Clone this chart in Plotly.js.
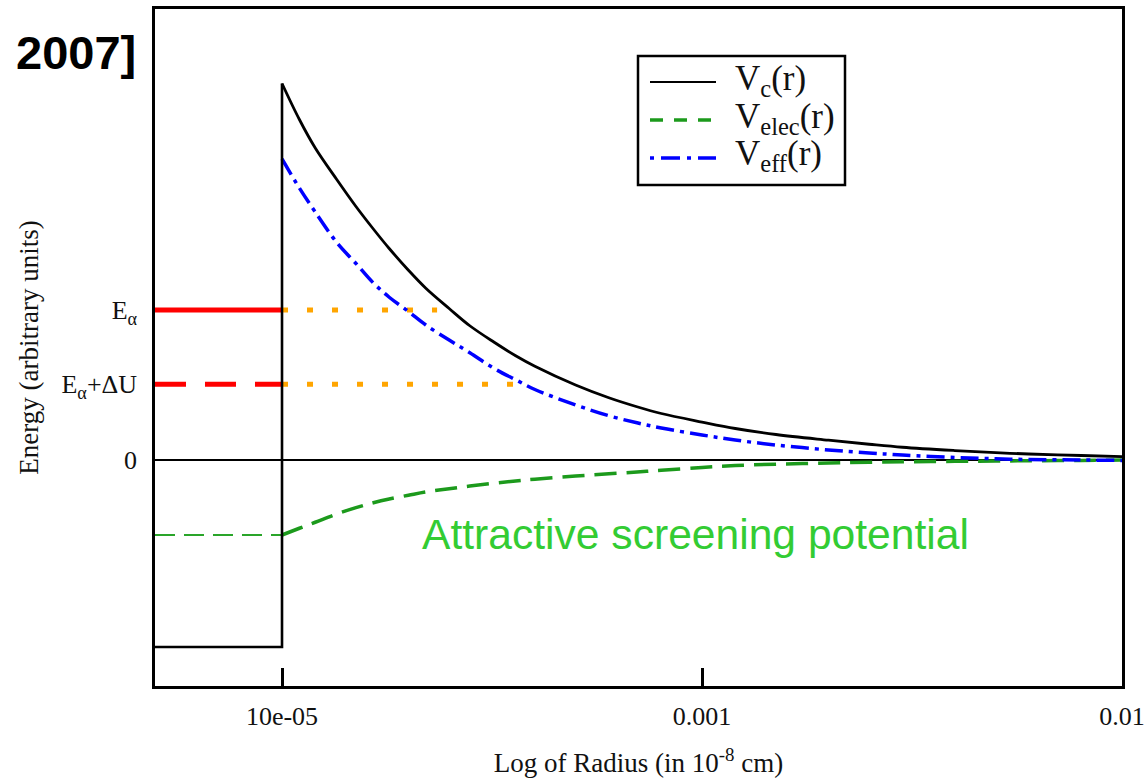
<!DOCTYPE html>
<html>
<head>
<meta charset="utf-8">
<script src="https://cdn.plot.ly/plotly-3.0.1.min.js"></script>
<style>html,body{margin:0;padding:0;background:#fff;}#chart{width:1146px;height:778px;}</style>
</head>
<body>
<div id="chart"></div>
<script>
// ---- data ----
const radius = [1.0e-4, 1.1e-4, 1.2e-4, 1.35e-4, 1.5e-4, 1.65e-4, 1.8e-4, 2.0e-4, 2.2e-4, 2.5e-4, 2.8e-4, 3.2e-4, 3.6e-4, 4.0e-4, 5e-4, 6e-4, 7e-4, 8e-4, 1e-3, 1.2e-3, 1.5e-3, 2e-3, 2.5e-3, 3e-3, 4e-3, 5e-3, 6e-3, 8e-3, 1e-2];
const vCoulomb = [2.51, 2.27, 2.08, 1.87, 1.69, 1.54, 1.41, 1.265, 1.145, 1.01, 0.895, 0.785, 0.695, 0.625, 0.50, 0.415, 0.355, 0.31, 0.253, 0.21, 0.17, 0.132, 0.105, 0.085, 0.063, 0.049, 0.04, 0.03, 0.023];
const vElec = [-0.50, -0.455, -0.415, -0.36, -0.318, -0.285, -0.26, -0.235, -0.213, -0.192, -0.174, -0.155, -0.14, -0.128, -0.107, -0.092, -0.08, -0.068, -0.05, -0.037, -0.028, -0.02, -0.015, -0.012, -0.009, -0.007, -0.005, -0.003, 0];
const vEff = [2.007, 1.813, 1.653, 1.45, 1.31, 1.18, 1.085, 0.99, 0.90, 0.80, 0.715, 0.61, 0.535, 0.47, 0.367, 0.295, 0.248, 0.213, 0.167, 0.133, 0.10, 0.067, 0.047, 0.033, 0.017, 0.008, 0.003, 0, -0.003];

const innerRadius = [4.984e-5, 1.0e-4];      // inside the nucleus
const wallRadius = [4.984e-5, 1.0e-4, 1.0e-4];
const vCoulombWall = [-1.247, -1.247, 2.51];
const vElecInner = [-0.5, -0.5];

const levelAlpha = [1.0, 1.0];               // E_alpha
const levelAlphaDU = [0.505, 0.505];         // E_alpha + dU
const dottedAlphaX = [1.0e-4, 2.34e-4];
const dottedAlphaDUX = [1.0e-4, 3.55e-4];

const xTickVals = [1e-4, 1e-3, 1e-2];
const xTickText = ['10e-05', '0.001', '0.01'];
const yTickVals = [0, 0.505, 1.0];
const yTickText = ['0', 'E<sub>α</sub>+ΔU', 'E<sub>α</sub>'];

const legendNames = ['V<sub>c</sub>(r)', 'V<sub>elec</sub>(r)', 'V<sub>eff</sub>(r)'];

// ---- styling ----
const SERIF = 'Liberation Serif, Times New Roman, serif';
const SANS = 'Liberation Sans, Arial, sans-serif';
const cBlack = '#000000', cGreen = '#1c9a1c', cGreenThin = '#2aa52a', cBlue = '#0000ff', cRed = '#ff0000', cOrange = '#ffa500';

const traces = [
  {x: innerRadius, y: levelAlpha, mode: 'lines', line: {color: cRed, width: 5}, showlegend: false, hoverinfo: 'skip'},
  {x: innerRadius, y: levelAlphaDU, mode: 'lines', line: {color: cRed, width: 5, dash: '31px,19px'}, showlegend: false, hoverinfo: 'skip'},
  {x: dottedAlphaX, y: levelAlpha, mode: 'lines', line: {color: cOrange, width: 5, dash: '6px,19px'}, showlegend: false, hoverinfo: 'skip'},
  {x: dottedAlphaDUX, y: levelAlphaDU, mode: 'lines', line: {color: cOrange, width: 5, dash: '6px,19px'}, showlegend: false, hoverinfo: 'skip'},
  {x: innerRadius, y: vElecInner, mode: 'lines', line: {color: cGreenThin, width: 2, dash: '20px,9px'}, showlegend: false},
  {x: radius, y: vElec, mode: 'lines', line: {color: cGreen, width: 3.5, dash: '22px,10px', shape: 'spline', smoothing: 1}, showlegend: false},
  {x: radius, y: vEff, mode: 'lines', line: {color: cBlue, width: 3.5, dash: '18px,6px,4px,6px', shape: 'spline', smoothing: 1}, showlegend: false},
  {x: wallRadius, y: vCoulombWall, mode: 'lines', line: {color: cBlack, width: 2.6}, showlegend: false},
  {x: radius, y: vCoulomb, mode: 'lines', line: {color: cBlack, width: 2.8, shape: 'spline', smoothing: 1}, showlegend: false}
];

// plot area in pixels: left 155, right 1122, top 9, bottom 686
const PL = 155, PR = 1122, PT = 9, PB = 686;
const px = v => (v - PL) / (PR - PL);
const py = v => (PB - v) / (PB - PT);

const legendRows = [82, 120, 158];
const legendDash = ['solid', '13px,11px', '4px,7px,19px,7px'];
const legendColor = [cBlack, cGreen, cBlue];
const legendWidth = [2.2, 3.5, 3.5];

const shapes = [
  {type: 'rect', xref: 'paper', yref: 'paper', x0: px(638), x1: px(845), y0: py(185), y1: py(56), line: {color: cBlack, width: 2.5}, fillcolor: 'rgba(0,0,0,0)'}
];
const annotations = [];
legendRows.forEach((r, i) => {
  shapes.push({type: 'line', xref: 'paper', yref: 'paper', x0: px(650), x1: px(716), y0: py(r), y1: py(r), line: {color: legendColor[i], width: legendWidth[i], dash: legendDash[i]}});
  annotations.push({xref: 'paper', yref: 'paper', x: px(733), y: py(r - 2), xanchor: 'left', yanchor: 'middle', showarrow: false, text: legendNames[i], font: {family: SERIF, size: 35, color: '#111'}});
});
annotations.push({xref: 'paper', yref: 'y', x: px(420), y: -0.49, xanchor: 'left', yanchor: 'middle', showarrow: false, text: 'Attractive screening potential', font: {family: SANS, size: 42.6, color: '#33cc33'}});

const layout = {
  width: 1146, height: 778,
  margin: {l: PL, r: 1146 - PR, t: PT, b: 778 - PB, pad: 0},
  paper_bgcolor: '#ffffff', plot_bgcolor: '#ffffff',
  showlegend: false,
  title: {text: '<b>2007]</b>', font: {family: SANS, size: 47, color: '#000'}, x: 16 / 1146, xanchor: 'left', xref: 'container', y: 1 - 53 / 778, yanchor: 'middle', yref: 'container'},
  xaxis: {
    type: 'log', range: [-4.3024, -2.0], tickvals: xTickVals, ticktext: xTickText,
    ticks: 'inside', ticklen: 18, tickwidth: 2.5, tickcolor: '#000',
    showline: true, mirror: true, linewidth: 2.5, linecolor: '#000',
    showgrid: false, zeroline: false, ticklabelstandoff: 5,
    tickfont: {family: SERIF, size: 26, color: '#111'},
    title: {text: 'Log of Radius (in 10<sup>-8</sup> cm)', font: {family: SERIF, size: 27, color: '#111'}, standoff: 28}
  },
  yaxis: {
    range: [-1.5067, 3.0067], tickvals: yTickVals, ticktext: yTickText,
    ticks: '', showline: true, mirror: true, linewidth: 2.5, linecolor: '#000',
    showgrid: false, zeroline: true, zerolinecolor: '#000', zerolinewidth: 2,
    ticklabelstandoff: 10,
    tickfont: {family: SERIF, size: 26, color: '#111'},
    title: {text: 'Energy (arbitrary units)', font: {family: SERIF, size: 27, color: '#111'}, standoff: 16}
  },
  shapes: shapes,
  annotations: annotations
};

Plotly.newPlot('chart', traces, layout, {displayModeBar: false});
</script>
</body>
</html>
